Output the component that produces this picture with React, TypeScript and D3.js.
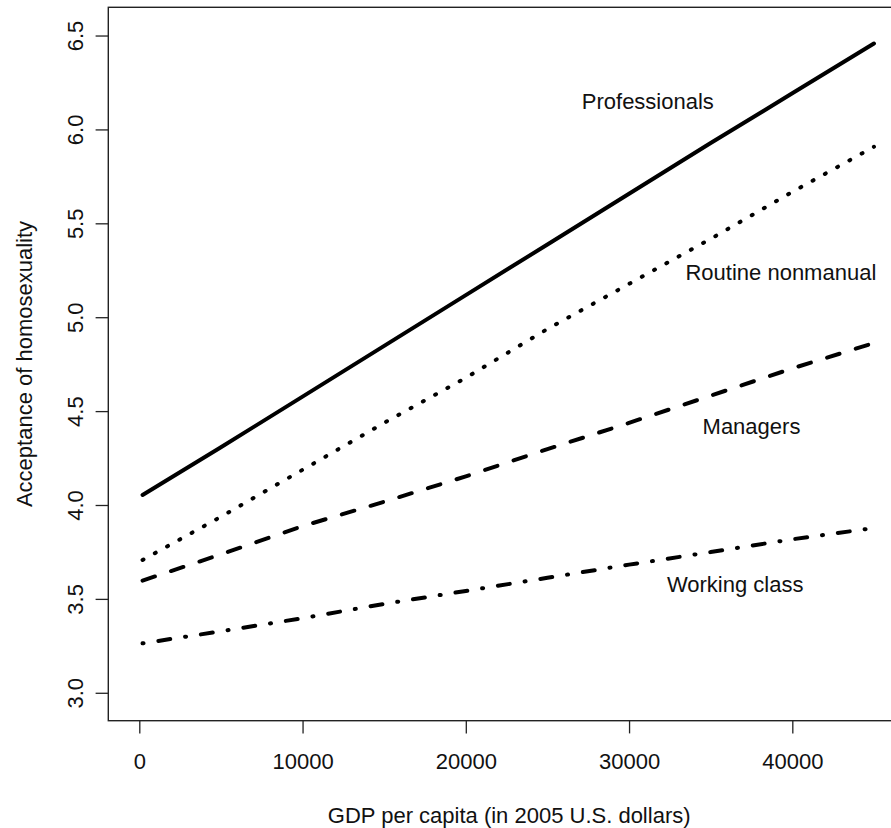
import * as d3 from "d3";
import {useEffect, useRef} from "react";

// GDP per capita where the fitted values are read
const gdp = [200, 5000, 10000, 15000, 20000, 25000, 30000, 35000, 40000, 45000];

// predicted acceptance, one array per class
const professionals = [4.056, 4.31, 4.58, 4.85, 5.12, 5.39, 5.66, 5.93, 6.195, 6.46];
const routineNonmanual = [3.71, 3.94, 4.19, 4.44, 4.68, 4.94, 5.18, 5.42, 5.67, 5.91];
const managers = [3.6, 3.74, 3.89, 4.02, 4.155, 4.3, 4.44, 4.585, 4.73, 4.865];
const workingClass = [3.266, 3.33, 3.4, 3.476, 3.545, 3.615, 3.685, 3.752, 3.82, 3.88];

const seriesNames = ["Professionals", "Routine nonmanual", "Managers", "Working class"];
const seriesValues = [professionals, routineNonmanual, managers, workingClass];
// where each label sits, in data units
const labelX = [31150, 39300, 37500, 36500];
const labelY = [6.15, 5.24, 4.42, 3.58];

const xTicks = [0, 10000, 20000, 30000, 40000];
const yTicks = [3.0, 3.5, 4.0, 4.5, 5.0, 5.5, 6.0, 6.5];

function App() {
  const ref = useRef(null);

  useEffect(() => {
    const width = 891;
    const height = 828;
    const font = "'Liberation Sans', Arial, Helvetica, sans-serif";
    const fontSize = 22;
    const tick = 12.7;
    const lineH = 25.3; // one margin line

    // plot region (right edge falls just past the picture)
    const left = 108.3, right = 910, top = 7.3, bottom = 720.7;

    ref.current.innerHTML = "";

    const svg = d3.select(ref.current)
      .append("svg")
        .attr("width", width)
        .attr("height", height)
        .style("display", "block")
        .style("background", "#fff");

    const x = d3.scaleLinear()
      .domain([-1899, 47209])
      .range([left, right]);
    const y = d3.scaleLinear()
      .domain([2.854, 6.653])
      .range([bottom, top]);

    // box
    svg.append("rect")
      .attr("x", left)
      .attr("y", top)
      .attr("width", right - left)
      .attr("height", bottom - top)
      .attr("fill", "none")
      .attr("stroke", "#222")
      .attr("stroke-width", 1.4);

    // x axis
    const xAxis = svg.append("g")
      .attr("transform", "translate(0," + bottom + ")")
      .call(d3.axisBottom(x).tickValues(xTicks).tickSize(tick).tickSizeOuter(0).tickPadding(20).tickFormat(d3.format("d")));
    xAxis.select(".domain").remove();
    xAxis.selectAll("line").attr("stroke", "#222").attr("stroke-width", 1.3);
    xAxis.selectAll("text")
      .attr("font-family", font)
      .attr("font-size", fontSize)
      .attr("fill", "#111");

    // y axis, labels turned like R's default las=0, baseline on margin line 1
    const yAxis = svg.append("g");
    yAxis.selectAll("line")
      .data(yTicks)
      .enter()
      .append("line")
        .attr("x1", left)
        .attr("x2", left - tick)
        .attr("y1", d => y(d))
        .attr("y2", d => y(d))
        .attr("stroke", "#222")
        .attr("stroke-width", 1.3);
    yAxis.selectAll("text")
      .data(yTicks)
      .enter()
      .append("text")
        .attr("transform", d => "translate(" + (left - lineH) + "," + y(d) + ")rotate(-90)")
        .attr("text-anchor", "middle")
        .attr("font-family", font)
        .attr("font-size", fontSize)
        .attr("fill", "#111")
        .text(d => d3.format(".1f")(d));

    // axis titles
    svg.append("text")
      .attr("x", (left + right) / 2)
      .attr("y", 815)
      .attr("text-anchor", "middle")
      .attr("dominant-baseline", "central")
      .attr("font-family", font)
      .attr("font-size", fontSize)
      .attr("fill", "#111")
      .text("GDP per capita (in 2005 U.S. dollars)");

    svg.append("text")
      .attr("transform", "translate(" + (left - 3 * lineH) + "," + ((top + bottom) / 2) + ")rotate(-90)")
      .attr("text-anchor", "middle")
      .attr("font-family", font)
      .attr("font-size", fontSize)
      .attr("fill", "#111")
      .text("Acceptance of homosexuality");

    // lines, R lty 1, 3, 2, 4
    const dashes = [null, "1,13", "13,17", "1,15,12,15"];
    const line = d3.line()
      .x(d => x(d[0]))
      .y(d => y(d[1]));

    seriesValues.forEach((vals, i) => {
      svg.append("path")
        .datum(gdp.map((g, j) => [g, vals[j]]))
        .attr("d", line)
        .attr("fill", "none")
        .attr("stroke", "#000")
        .attr("stroke-width", 4)
        .attr("stroke-linecap", "round")
        .attr("stroke-linejoin", "round")
        .attr("stroke-dasharray", dashes[i]);
    });

    // series labels
    seriesNames.forEach((name, i) => {
      svg.append("text")
        .attr("x", x(labelX[i]))
        .attr("y", y(labelY[i]))
        .attr("text-anchor", "middle")
        .attr("dominant-baseline", "central")
        .attr("font-family", font)
        .attr("font-size", fontSize)
        .attr("fill", "#111")
        .text(name);
    });
  });

  return (
    <div ref={ref} style={{position: "absolute", left: 0, top: 0}}></div>
  );
}

export default App;
